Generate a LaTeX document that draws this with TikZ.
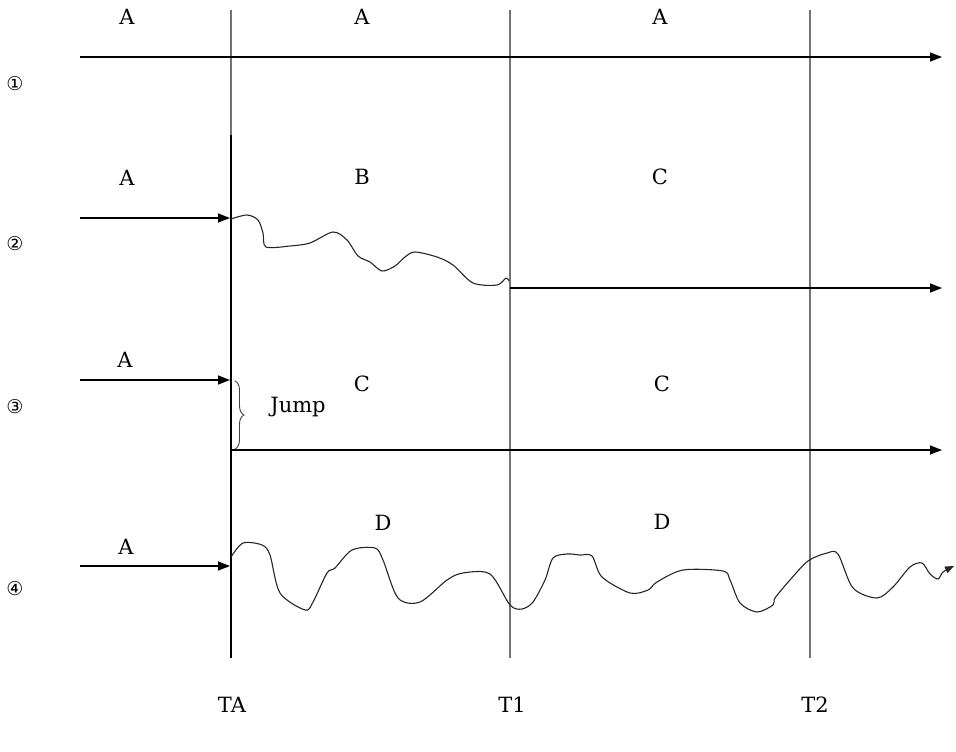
\documentclass[tikz,border=0pt]{standalone}
\usepackage{fontspec}
\setmainfont{DejaVu Serif}
\newfontfamily\symfont{DejaVu Sans}
\usetikzlibrary{arrows.meta,decorations.pathreplacing}
\begin{document}
\begin{tikzpicture}[x=1pt,y=-1pt,
  lbl/.style={font=\fontsize{21}{24}\selectfont, inner sep=0pt},
  num/.style={font=\symfont\fontsize{19}{22}\selectfont, inner sep=0pt},
  axis/.style={line width=1.6pt, -{Triangle[length=12pt,width=9pt]}},
  gridline/.style={line width=1.1pt, black!55},
  wave/.style={line width=1.1pt, black!85, line join=round}]
\useasboundingbox (0,0) rectangle (956,752);
% vertical time lines
\coordinate (ta0) at (231,10); \coordinate (ta1) at (231,135); \coordinate (ta2) at (231,658);
\coordinate (t10) at (510,10); \coordinate (t12) at (510,658);
\coordinate (t20) at (810,10); \coordinate (t22) at (810,658);
\draw[gridline] (ta0) -- (ta1);
\draw[line width=1.3pt] (ta1) -- (ta2);
\draw[gridline] (t10) -- (t12);
\draw[gridline] (t20) -- (t22);
% circled numbers
\node[num] (n1) at (15,84) {①};
\node[num] (n2) at (15,244) {②};
\node[num] (n3) at (15,407) {③};
\node[num] (n4) at (15,589) {④};
% labels
\node[lbl] (a1) at (127,17) {A};
\node[lbl] (a2) at (362,17) {A};
\node[lbl] (a3) at (660,17) {A};
\node[lbl] (r2a) at (127,178) {A};
\node[lbl] (r2b) at (362,177) {B};
\node[lbl] (r2c) at (660,177) {C};
\node[lbl] (r3a) at (125,360) {A};
\node[lbl] (r3c1) at (362,384) {C};
\node[lbl] (r3c2) at (662,384) {C};
\node[lbl] (jump) at (298,407) {Jump};
\node[lbl] (r4a) at (126,547) {A};
\node[lbl] (r4d1) at (383,523) {D};
\node[lbl] (r4d2) at (662,522) {D};
\node[lbl] (tA) at (232,705) {TA};
\node[lbl] (tB) at (512,705) {T1};
\node[lbl] (tC) at (815,705) {T2};
% row 1
\coordinate (r1s) at (80,57); \coordinate (r1e) at (942,57);
\draw[axis] (r1s) -- (r1e);
% row 2
\coordinate (r2s) at (80,218); \coordinate (r2m) at (230,218);
\draw[axis] (r2s) -- (r2m);
\draw[wave] plot[smooth, tension=0.5] coordinates {(231,219) (247,215) (258,220) (263,233) (266,247) (290,246) (310,243) (333,232) (347,240) (358,256) (370,262) (382,271) (395,266) (405,257) (415,252) (437,257) (453,265) (473,283) (497,285) (506,278) (509,281)};
\coordinate (r2r) at (510,288); \coordinate (r2e) at (942,288);
\draw[axis] (r2r) -- (r2e);
% row 3
\coordinate (r3s) at (80,380); \coordinate (r3m) at (230,380);
\draw[axis] (r3s) -- (r3m);
\coordinate (br1) at (235,381); \coordinate (br2) at (235,449);
\draw[line width=0.9pt, black!75, decorate, decoration={brace, amplitude=9pt}] (br1) -- (br2);
\coordinate (r3l) at (231,450); \coordinate (r3e) at (942,450);
\draw[axis] (r3l) -- (r3e);
% row 4
\coordinate (r4s) at (80,566); \coordinate (r4m) at (230,566);
\draw[axis] (r4s) -- (r4m);
\draw[wave, -{Triangle[length=9pt,width=7pt]}] plot[smooth, tension=0.5] coordinates {(231,557) (243,543) (262,545) (270,555) (280,593) (305,610) (313,602) (327,573) (335,568) (352,550) (375,548) (383,560) (398,598) (420,602) (447,580) (463,573) (490,574) (510,605) (522,609) (533,602) (545,580) (553,558) (567,554) (580,555) (592,556) (602,577) (630,593) (648,590) (657,582) (683,570) (723,571) (730,580) (740,603) (757,612) (773,605) (775,598) (790,580) (808,561) (827,553) (838,554) (853,588) (877,598) (893,587) (910,567) (922,563) (930,574) (938,579) (943,572) (954,566)};
\end{tikzpicture}
\end{document}
